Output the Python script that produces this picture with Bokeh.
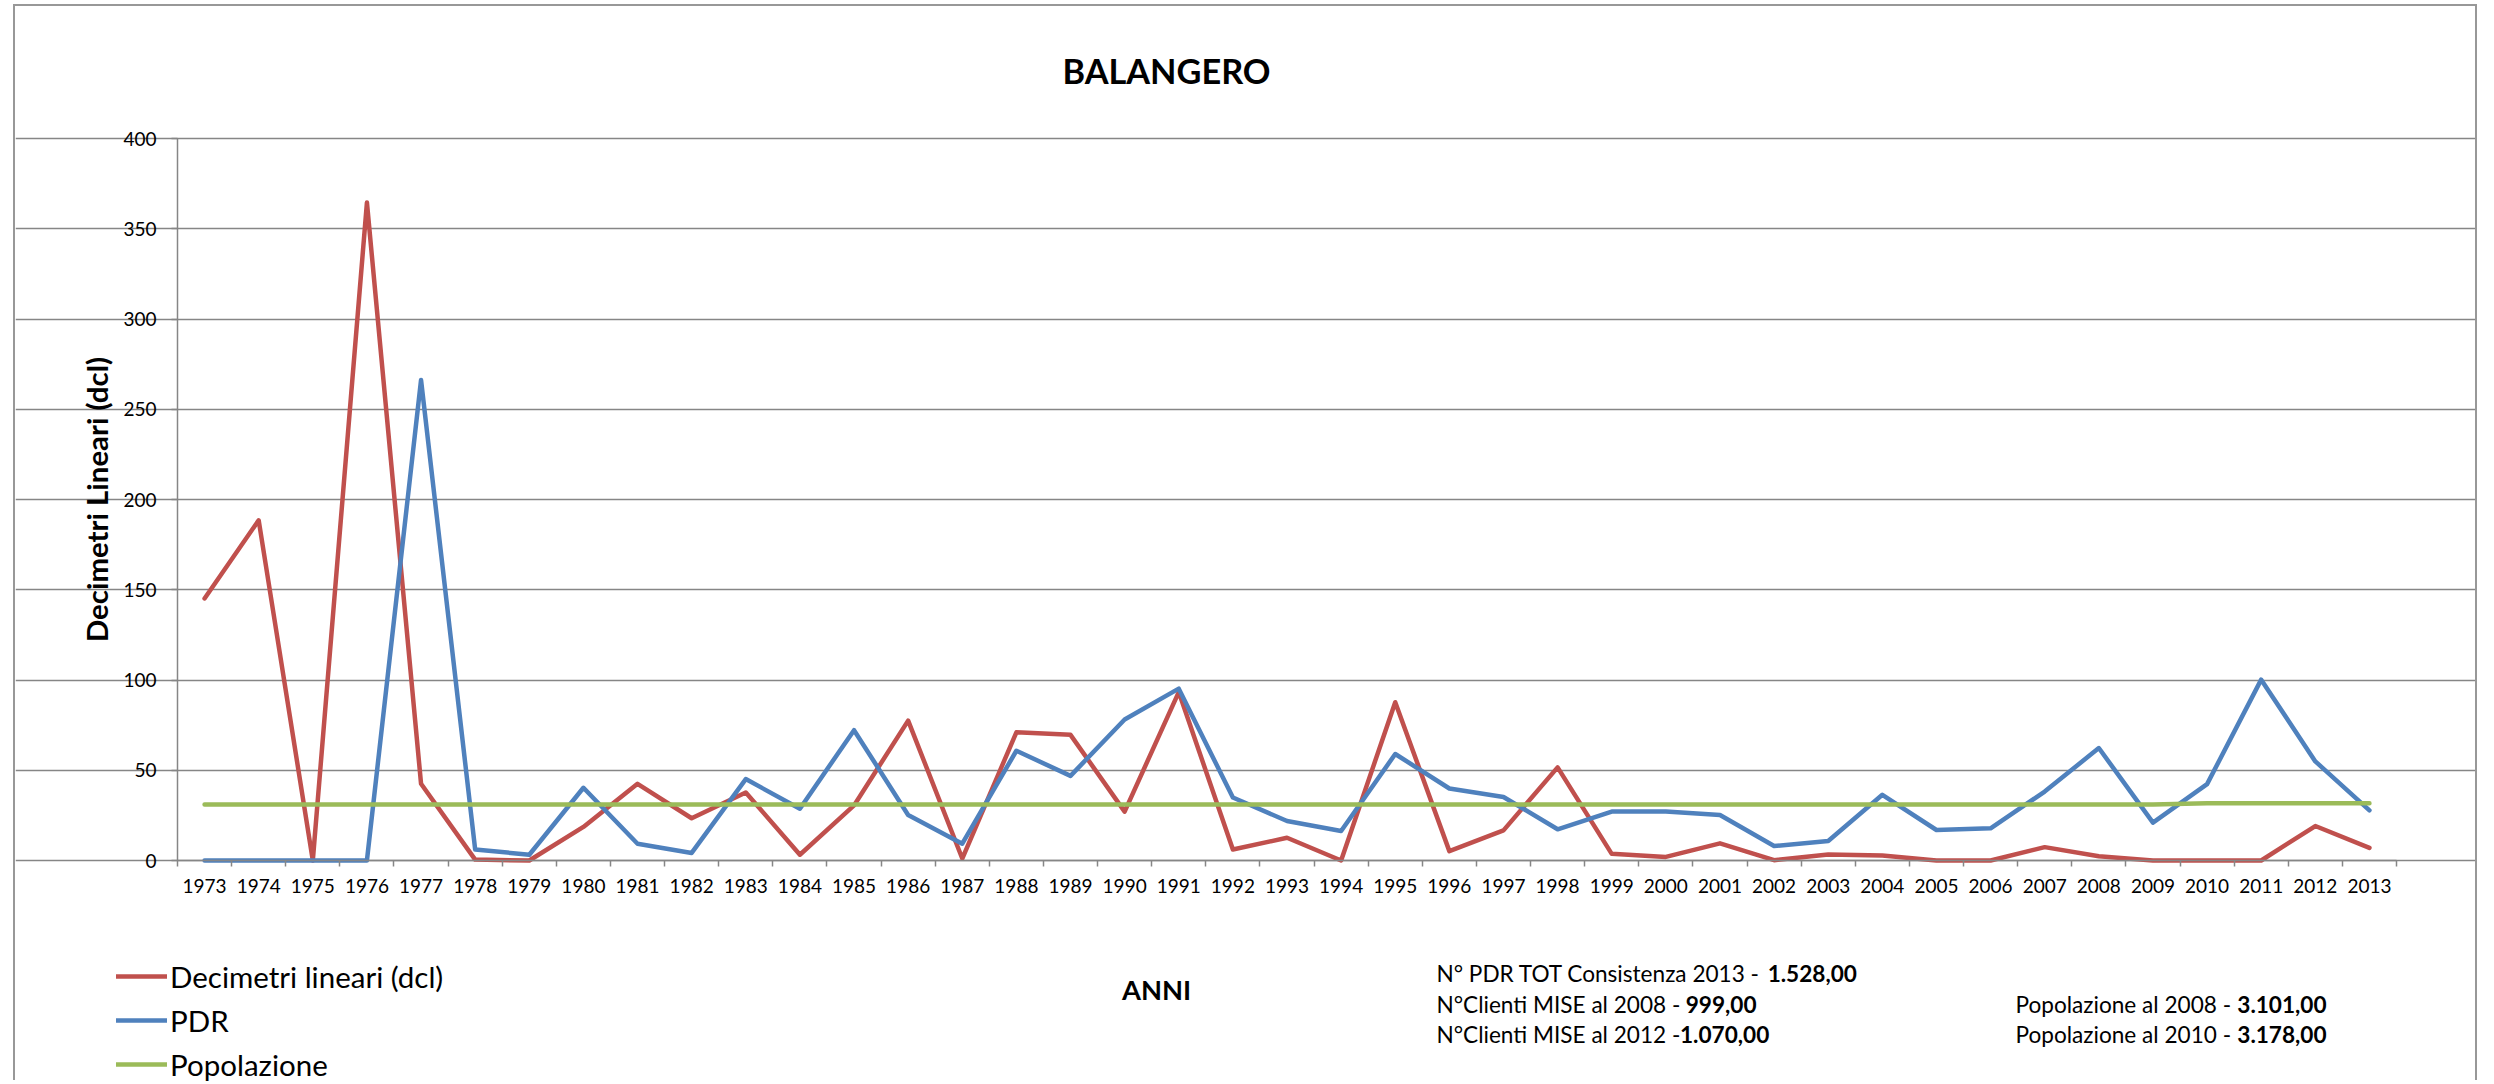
import glob
import math
import struct

from bokeh.plotting import figure
from bokeh.models import Range1d, FixedTicker, Legend, LegendItem, Label
from bokeh.embed import file_html
from bokeh.resources import INLINE

# ---------------- data ----------------
years = [1973, 1974, 1975, 1976, 1977, 1978, 1979, 1980, 1981, 1982,
         1983, 1984, 1985, 1986, 1987, 1988, 1989, 1990, 1991, 1992,
         1993, 1994, 1995, 1996, 1997, 1998, 1999, 2000, 2001, 2002,
         2003, 2004, 2005, 2006, 2007, 2008, 2009, 2010, 2011, 2012, 2013]
year_labels = [str(y) for y in years]

decimetri = [145.2, 188.5, 0.0, 364.5, 42.5, 0.5, 0.0, 18.6, 42.5, 23.4,
             37.7, 3.2, 30.5, 77.5, 1.1, 71.0, 69.6, 27.1, 93.3, 6.1,
             12.6, 0.0, 87.7, 5.2, 16.7, 51.6, 3.7, 2.0, 9.5, 0.2,
             3.3, 2.8, 0.0, 0.0, 7.4, 2.4, 0.0, 0.0, 0.0, 19.1, 7.0]

pdr = [0.0, 0.0, 0.0, 0.0, 266.2, 6.1, 3.2, 40.3, 9.3, 4.2,
       45.1, 28.7, 72.2, 25.2, 9.3, 60.8, 46.9, 78.1, 95.2, 34.9,
       21.9, 16.3, 59.0, 39.9, 35.2, 17.3, 27.1, 27.1, 25.2, 8.0,
       10.8, 36.4, 16.9, 17.8, 38.2, 62.3, 21.0, 42.3, 100.2, 54.9, 27.8]

popolazione = [31.01, 31.01, 31.01, 31.01, 31.01, 31.01, 31.01, 31.01, 31.01, 31.01,
               31.01, 31.01, 31.01, 31.01, 31.01, 31.01, 31.01, 31.01, 31.01, 31.01,
               31.01, 31.01, 31.01, 31.01, 31.01, 31.01, 31.01, 31.01, 31.01, 31.01,
               31.01, 31.01, 31.01, 31.01, 31.01, 31.01, 31.01, 31.78, 31.78, 31.78, 31.78]

y_ticks = [0, 50, 100, 150, 200, 250, 300, 350, 400]

title_text = "BALANGERO"
y_title = "Decimetri Lineari (dcl)"
x_title = "ANNI"
series_names = ["Decimetri lineari (dcl)", "PDR", "Popolazione"]
series_colors = ["#C0504D", "#4F81BD", "#9BBB59"]

notes_left = [("N° PDR TOT Consistenza 2013 - ", "1.528,00"),
              ("N°Clienti MISE al 2008 - ", "999,00"),
              ("N°Clienti MISE al 2012 -", "1.070,00")]
notes_right = [("Popolazione al 2008 - ", "3.101,00"),
               ("Popolazione al 2010 - ", "3.178,00")]

FONT = "Lato"
GRID = "#868686"
BORDER = "#989898"


# ------------- text width helper (reads the installed font file) -------------
def _font_width_fn(name):
    paths = []
    for base in ["/usr/share/fonts", "/usr/local/share/fonts", "/root/.fonts"]:
        paths += glob.glob(base + "/**/" + name, recursive=True)
    if not paths:
        return None
    try:
        data = open(paths[0], "rb").read()
        num = struct.unpack(">H", data[4:6])[0]
        tables = {}
        for i in range(num):
            tag, _, off, ln = struct.unpack(">4sIII", data[12 + 16 * i:28 + 16 * i])
            tables[tag.decode("latin1")] = off
        head = tables["head"]
        upem = struct.unpack(">H", data[head + 18:head + 20])[0]
        hhea = tables["hhea"]
        nhm = struct.unpack(">H", data[hhea + 34:hhea + 36])[0]
        hm = tables["hmtx"]
        adv = [struct.unpack(">H", data[hm + 4 * i:hm + 4 * i + 2])[0] for i in range(nhm)]
        cm = tables["cmap"]
        n = struct.unpack(">H", data[cm + 2:cm + 4])[0]
        sub = None
        for i in range(n):
            pid, eid, off = struct.unpack(">HHI", data[cm + 4 + 8 * i:cm + 12 + 8 * i])
            fmt = struct.unpack(">H", data[cm + off:cm + off + 2])[0]
            if fmt == 4:
                sub = cm + off
                break
        segx2 = struct.unpack(">H", data[sub + 6:sub + 8])[0]
        seg = segx2 // 2
        ends = struct.unpack(">%dH" % seg, data[sub + 14:sub + 14 + segx2])
        starts = struct.unpack(">%dH" % seg, data[sub + 16 + segx2:sub + 16 + 2 * segx2])
        deltas = struct.unpack(">%dh" % seg, data[sub + 16 + 2 * segx2:sub + 16 + 3 * segx2])
        rpos = sub + 16 + 3 * segx2
        roffs = struct.unpack(">%dH" % seg, data[rpos:rpos + segx2])

        def gid(c):
            for i in range(seg):
                if starts[i] <= c <= ends[i]:
                    if roffs[i] == 0:
                        return (c + deltas[i]) & 0xFFFF
                    addr = rpos + 2 * i + roffs[i] + 2 * (c - starts[i])
                    g = struct.unpack(">H", data[addr:addr + 2])[0]
                    return (g + deltas[i]) & 0xFFFF if g else 0
            return 0

        def width(s, size):
            return sum(adv[min(gid(ord(ch)), nhm - 1)] for ch in s) * size / upem
        return width
    except Exception:
        return None


_w_reg = _font_width_fn("Lato-Regular.ttf")
_w_bold = _font_width_fn("Lato-Bold.ttf")


def text_width(s, size, bold=False):
    fn = _w_bold if bold else _w_reg
    if fn is None:
        return (0.56 if bold else 0.52) * size * len(s)
    return fn(s, size)


def fit_size(parts, target, default):
    """font size (px) at which the given (text, bold) parts span `target` px"""
    w1 = sum(text_width(t, 1.0, b) for t, b in parts)
    if w1 <= 0:
        return default
    s = target / w1
    return s if 8 < s < 60 else default


# ---------------- geometry (page pixels of the reference) ----------------
OX, OY = 15, 6               # canvas origin on the page (after the css frame)
W, H = 2464, 1076            # canvas size
FL, FR, FT, FB = 177, 2396, 138, 860   # plot area on the page

n_cat = len(years)
px_year = (FR - FL) / n_cat
px_unit = (FB - FT) / (y_ticks[-1] - y_ticks[0])
x0 = years[0] - 0.5
x1 = years[-1] + 0.5


def sx(X):                    # page x -> screen x (frame = canvas, from its left)
    return X - OX


def sy(Y):                    # page y -> screen y (from the canvas bottom, upward)
    return OY + H - Y


p = figure(width=W, height=H, output_backend="svg", toolbar_location=None,
           x_range=Range1d(x0 - (FL - OX) / px_year, x1 + (OX + W - FR) / px_year),
           y_range=Range1d(y_ticks[0] - (OY + H - FB) / px_unit,
                           y_ticks[-1] + (FT - OY) / px_unit),
           min_border=0, min_border_left=0, min_border_right=0,
           min_border_top=0, min_border_bottom=0,
           background_fill_color="white", border_fill_color="white")
p.outline_line_color = None
p.styles = {"margin-left": "%dpx" % (OX - 2), "margin-top": "%dpx" % (OY - 2),
            "border-left": "2px solid " + BORDER, "border-right": "2px solid " + BORDER,
            "border-top": "2px solid " + BORDER}

tick_size = fit_size([(year_labels[0], False)], 44, 21)

# x axis: labels at the year centres, tick marks between categories
xa = p.xaxis[0]
xa.fixed_location = 0
xa.bounds = (x0, x1)
xa.ticker = FixedTicker(ticks=years, minor_ticks=[y - 0.5 for y in years] + [x1])
xa.major_label_overrides = {y: lab for y, lab in zip(years, year_labels)}
xa.major_tick_line_color = None
xa.major_tick_out = 6
xa.major_tick_in = 0
xa.minor_tick_out = 6
xa.minor_tick_in = 0
xa.minor_tick_line_color = GRID
xa.minor_tick_line_width = 1.5
xa.axis_line_color = GRID
xa.axis_line_width = 1.5
xa.major_label_text_font = FONT
xa.major_label_text_font_size = "%.1fpx" % tick_size
xa.major_label_text_color = "black"
xa.major_label_standoff = 12

ya = p.yaxis[0]
ya.fixed_location = x0
ya.bounds = (y_ticks[0], y_ticks[-1])
ya.ticker = FixedTicker(ticks=y_ticks)
ya.minor_tick_line_color = None
ya.major_tick_out = 6
ya.major_tick_in = 0
ya.major_tick_line_color = GRID
ya.major_tick_line_width = 1.5
ya.axis_line_color = GRID
ya.axis_line_width = 1.5
ya.major_label_text_font = FONT
ya.major_label_text_font_size = "%.1fpx" % tick_size
ya.major_label_text_color = "black"
ya.major_label_standoff = 15

p.xgrid.grid_line_color = None
p.ygrid.grid_line_color = GRID
p.ygrid.grid_line_width = 1.5
p.ygrid.bounds = (x0, x1)

renderers = []
for vals, col in zip([decimetri, pdr, popolazione], series_colors):
    r = p.line(years, vals, line_color=col, line_width=4.5, line_join="round", line_cap="round")
    renderers.append(r)

# ---------------- legend ----------------
leg_size = fit_size([(series_names[0], False)], 274, 29)
ROW = 44
legend = Legend(items=[LegendItem(label=nm, renderers=[r]) for nm, r in zip(series_names, renderers)],
                location=(sx(116), sy(954 + 3 * ROW)), orientation="vertical",
                glyph_width=51, glyph_height=ROW, label_height=ROW, label_width=10,
                spacing=0, padding=0, margin=0, label_standoff=3,
                border_line_color=None, background_fill_alpha=0,
                label_text_font=FONT, label_text_font_size="%.1fpx" % leg_size,
                label_text_color="black")
p.add_layout(legend, "center")

# ---------------- texts ----------------
title_size = fit_size([(title_text, True)], 209, 34)
p.add_layout(Label(x=sx(1166), y=sy(70), x_units="screen", y_units="screen", text=title_text,
                   text_font=FONT, text_font_style="bold", text_font_size="%.1fpx" % title_size,
                   text_align="center", text_baseline="middle", text_color="black"))

ytitle_size = fit_size([(y_title, True)], 286, 29)
p.add_layout(Label(x=sx(96), y=sy(499), x_units="screen", y_units="screen", text=y_title,
                   angle=math.pi / 2, text_font=FONT, text_font_style="bold",
                   text_font_size="%.1fpx" % ytitle_size,
                   text_align="center", text_baseline="middle", text_color="black"))

anni_size = fit_size([(x_title, True)], 69, 26)
p.add_layout(Label(x=sx(1156), y=sy(989), x_units="screen", y_units="screen", text=x_title,
                   text_font=FONT, text_font_style="bold", text_font_size="%.1fpx" % anni_size,
                   text_align="center", text_baseline="middle", text_color="black"))

note_size = fit_size([(notes_right[0][0], False), (notes_right[0][1], True)], 311, 20)


def add_note(X, Y, plain, bold):
    p.add_layout(Label(x=sx(X), y=sy(Y), x_units="screen", y_units="screen", text=plain,
                       text_font=FONT, text_font_size="%.1fpx" % note_size,
                       text_align="left", text_baseline="middle", text_color="black"))
    p.add_layout(Label(x=sx(X) + text_width(plain, note_size), y=sy(Y), x_units="screen",
                       y_units="screen", text=bold, text_font=FONT, text_font_style="bold",
                       text_font_size="%.1fpx" % note_size, text_align="left",
                       text_baseline="middle", text_color="black"))


# left block: second line ends at x=1756 in the reference
line2_w = text_width(notes_left[1][0], note_size) + text_width(notes_left[1][1], note_size, True)
left_x = 1756 - line2_w
for (plain, bold), Y in zip(notes_left, [973, 1004, 1034]):
    add_note(left_x, Y, plain, bold)
for (plain, bold), Y in zip(notes_right, [1004, 1034]):
    add_note(2015, Y, plain, bold)

open("out.html", "w").write(file_html(p, INLINE))
